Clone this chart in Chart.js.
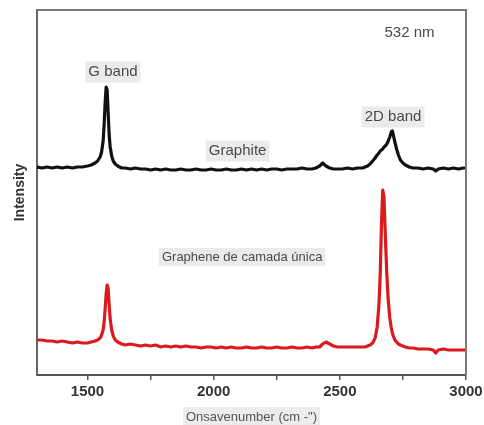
<!DOCTYPE html>
<html>
<head>
<meta charset="utf-8">
<style>
    html, body { margin: 0; padding: 0; background: #fff; }
    #wrap { width: 484px; height: 425px; }
</style>
<script src="https://cdn.jsdelivr.net/npm/chart.js@4/dist/chart.umd.min.js"></script>
</head>
<body>
<div id="wrap"><canvas id="ramanChart"></canvas></div>
<script>
// ========= Data =========
const wavenumbers = [
    1300, 1320, 1340, 1360, 1380, 1400, 1420, 1440, 1460, 1480,
    1500, 1515, 1530, 1540, 1550, 1556, 1562, 1566, 1570, 1574,
    1578, 1582, 1586, 1590, 1596, 1602, 1610, 1620, 1635, 1650,
    1670, 1690, 1710, 1730, 1750, 1770, 1790, 1810, 1830, 1850,
    1870, 1890, 1910, 1930, 1950, 1970, 1990, 2010, 2030, 2050,
    2070, 2090, 2110, 2130, 2150, 2170, 2190, 2210, 2230, 2250,
    2270, 2290, 2310, 2330, 2350, 2370, 2390, 2405, 2420, 2432,
    2445, 2460, 2475, 2490, 2510, 2530, 2550, 2570, 2590, 2600,
    2610, 2620, 2630, 2640, 2648, 2655, 2660, 2665, 2670, 2675,
    2680, 2686, 2692, 2698, 2704, 2708, 2712, 2718, 2725, 2732,
    2740, 2750, 2760, 2775, 2790, 2810, 2830, 2850, 2870, 2880,
    2890, 2910, 2930, 2950, 2970, 2990, 3000
];

const graphite = [
    208, 207, 208, 207, 208, 207, 208, 207, 208, 208,
    209, 210, 212, 214, 218, 223, 234, 250, 272, 288,
    285, 262, 240, 228, 219, 214, 211, 209, 207, 207,
    206, 207, 206, 206, 205, 206, 205, 206, 205, 205,
    206, 205, 205, 206, 205, 205, 206, 205, 205, 206,
    205, 205, 206, 205, 206, 205, 206, 205, 206, 206,
    205, 206, 206, 206, 207, 206, 206, 207, 209, 212,
    209, 207, 206, 206, 206, 207, 206, 207, 207, 208,
    209, 211, 214, 217, 220, 222, 224, 225, 226, 228,
    229, 231, 234, 238, 243, 244, 240, 233, 226, 220,
    215, 212, 210, 208, 207, 207, 206, 207, 206, 204,
    206, 207, 206, 207, 206, 207, 207
];

const graphene = [
    35, 35, 34, 34, 33, 34, 33, 32, 33, 32,
    32, 33, 34, 35, 37, 40, 45, 53, 66, 81,
    90, 86, 70, 56, 45, 39, 35, 33, 31, 30,
    31, 30, 29, 30, 29, 30, 28, 29, 28, 29,
    28, 29, 28, 28, 27, 28, 28, 27, 28, 27,
    28, 27, 27, 28, 27, 27, 28, 27, 27, 28,
    27, 27, 28, 27, 27, 28, 27, 28, 28, 31,
    33, 31, 29, 28, 28, 28, 28, 28, 28, 28,
    29, 30, 32, 37, 48, 70, 100, 150, 185, 178,
    142, 102, 74, 57, 47, 42, 39, 35, 33, 31,
    30, 29, 28, 27, 27, 26, 26, 26, 25, 22,
    25, 26, 25, 25, 25, 25, 25
];

const xTickValues = [1500, 1750, 2000, 2250, 2500, 2750, 3000];

const annotations = [
    { text: "532 nm", x: 2776, y: 342, box: false, size: 15 },
    { text: "G band", x: 1601, y: 303, box: true, size: 15 },
    { text: "Graphite", x: 2095, y: 224, box: true, size: 15 },
    { text: "2D band", x: 2711, y: 258, box: true, size: 15 },
    { text: "Graphene de camada única", x: 2113, y: 118, box: true, size: 13 },
];

const toPoints = (ys) => wavenumbers.map((x, i) => ({ x: x, y: ys[i] }));

const FONT = "'Liberation Sans', Arial, sans-serif";

// ========= Plugins =========
const frame = {
    id: "frame",
    beforeDraw(chart) {
        const ctx = chart.ctx;
        // light box behind the x title
        const xs = chart.scales.x;
        ctx.save();
        ctx.font = "13px " + FONT;
        const w = ctx.measureText(xs.options.title.text).width;
        const cx = (xs.left + xs.right) / 2;
        ctx.fillStyle = "#ececec";
        ctx.fillRect(cx - w / 2 - 3, 407, w + 6, 18);
        ctx.restore();
    },
    afterDatasetsDraw(chart) {
        const { ctx, chartArea: a, scales } = chart;
        ctx.save();
        ctx.strokeStyle = "#7a7a7a";
        ctx.lineWidth = 2;
        ctx.beginPath();
        ctx.moveTo(a.left, a.top);
        ctx.lineTo(a.right, a.top);
        ctx.lineTo(a.right, a.bottom);
        ctx.stroke();

        annotations.forEach((n) => {
            const px = scales.x.getPixelForValue(n.x);
            const py = scales.y.getPixelForValue(n.y);
            ctx.font = n.size + "px " + FONT;
            ctx.textAlign = "center";
            ctx.textBaseline = "middle";
            if (n.box) {
                const w = ctx.measureText(n.text).width;
                ctx.fillStyle = "rgba(232, 232, 232, 0.85)";
                ctx.fillRect(px - w / 2 - 3, py - n.size * 0.7, w + 6, n.size * 1.4);
            }
            ctx.fillStyle = "#4a4a4a";
            ctx.fillText(n.text, px, py);
        });
        ctx.restore();
    },
};

// ========= Raman Spectra (Line Chart) =========
const ramanCtx = document.getElementById("ramanChart");
new Chart(ramanCtx, {
    type: "line",
    data: {
        datasets: [
            {
                label: "Graphite",
                data: toPoints(graphite),
                borderColor: "#111111",
                borderWidth: 3.2,
                borderJoinStyle: "round",
                borderCapStyle: "round",
                pointRadius: 0,
                tension: 0,
            },
            {
                label: "Graphene de camada única",
                data: toPoints(graphene),
                borderColor: "#dc1a1e",
                borderWidth: 3.2,
                borderJoinStyle: "round",
                borderCapStyle: "round",
                pointRadius: 0,
                tension: 0,
            },
        ],
    },
    options: {
        responsive: true,
        maintainAspectRatio: false,
        animation: false,
        layout: {
            padding: { left: 0, top: 10, right: 18, bottom: 0 },
        },
        plugins: {
            legend: { display: false },
            tooltip: { enabled: false },
        },
        scales: {
            x: {
                type: "linear",
                min: 1300,
                max: 3000,
                afterBuildTicks: (scale) => {
                    scale.ticks = xTickValues.map((v) => ({ value: v }));
                },
                afterFit: (scale) => {
                    scale.height = 50;
                    scale.paddingLeft = 0;
                    scale.paddingRight = 0;
                },
                ticks: {
                    color: "#333333",
                    font: { family: FONT, size: 15, weight: "bold" },
                    padding: 3,
                    maxRotation: 0,
                    autoSkip: false,
                    callback: (v) => (v % 500 === 0 ? String(v) : ""),
                },
                grid: {
                    drawOnChartArea: false,
                    drawTicks: true,
                    tickLength: 5,
                    color: "#555555",
                    lineWidth: 1.5,
                },
                border: { display: true, color: "#555555", width: 2 },
                title: {
                    display: true,
                    text: "Onsavenumber (cm -\")",
                    color: "#555555",
                    font: { family: FONT, size: 13 },
                    padding: { top: 0, bottom: 0 },
                },
            },
            y: {
                min: 0,
                max: 365,
                afterFit: (scale) => {
                    scale.width = 37;
                },
                ticks: { display: false },
                grid: { display: false },
                border: { display: true, color: "#666666", width: 2 },
                title: {
                    display: true,
                    text: "Intensity",
                    color: "#333333",
                    font: { family: FONT, size: 14, weight: "bold" },
                    padding: { top: 12, bottom: 0 },
                },
            },
        },
    },
    plugins: [frame],
});
</script>
</body>
</html>
